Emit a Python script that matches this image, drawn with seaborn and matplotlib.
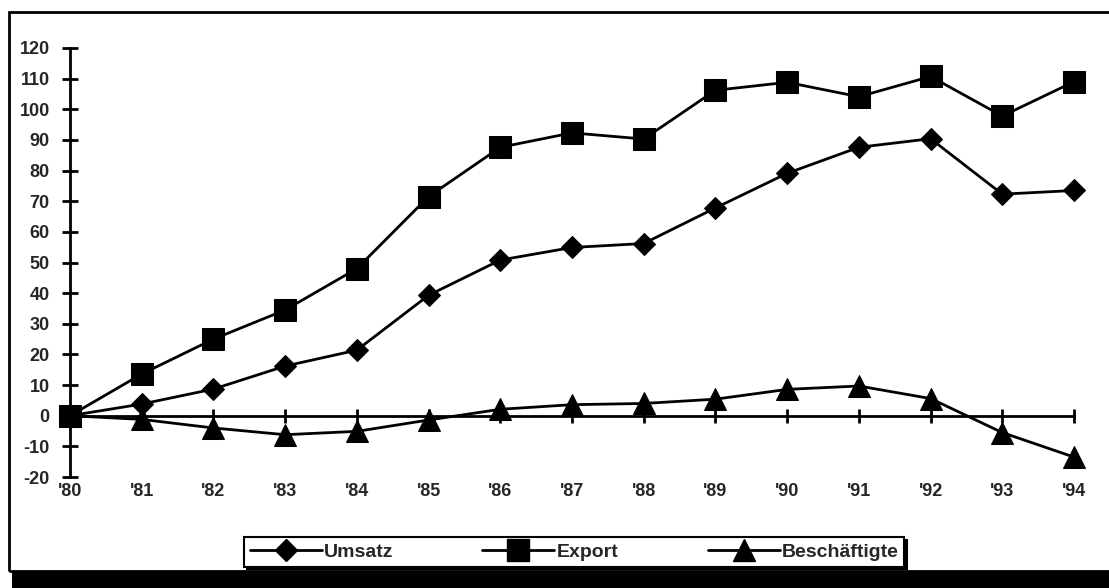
import numpy as np
import pandas as pd
import matplotlib
matplotlib.use("Agg")
import matplotlib.pyplot as plt
from matplotlib.lines import Line2D
from matplotlib.patches import Rectangle
import seaborn as sns

# Index 1980 = 0
jahre = ["'80", "'81", "'82", "'83", "'84", "'85", "'86", "'87",
         "'88", "'89", "'90", "'91", "'92", "'93", "'94"]
umsatz = [0, 3.8, 8.7, 16.2, 21.4, 39.3, 50.8, 54.9, 56.2, 67.8, 79.1, 87.6, 90.4, 72.3, 73.5]
export = [0, 13.6, 25.0, 34.5, 48.0, 71.5, 87.6, 92.3, 90.3, 106.2, 108.8, 104.1, 110.7, 97.8, 109.0]
beschaeftigte = [0, -1.2, -4.0, -6.2, -5.1, -1.4, 2.1, 3.6, 4.0, 5.4, 8.6, 9.7, 5.6, -5.5, -13.5]
y_ticks = list(range(-20, 121, 10))

sns.set_style("white")
plt.rcParams["font.family"] = ["Liberation Sans", "DejaVu Sans"]
plt.rcParams["font.weight"] = "bold"
FS = 13
FS_LEG = 14

W, H = 1109, 588
fig = plt.figure(figsize=(W / 100, H / 100), dpi=100)
fig.patch.set_facecolor("white")
ax = fig.add_axes([70 / W, 111 / H, 1004 / W, 429 / H])

x = np.arange(len(jahre))
df = pd.DataFrame({"x": x, "Umsatz": umsatz, "Export": export,
                   "Beschäftigte": beschaeftigte})

series = [
    ("Umsatz", "D", 11.2),
    ("Export", "s", 15.4),
    ("Beschäftigte", "^", 16.0),
]
LW = 2.0
handles = []
for name, mk, ms in series:
    sns.lineplot(data=df, x="x", y=name, ax=ax, color="black", linewidth=LW,
                 marker=mk, markersize=ms, markeredgecolor="black",
                 markerfacecolor="black", clip_on=False, zorder=5)
    handles.append(Line2D([], [], color="black", linewidth=LW, marker=mk,
                          markersize=ms, markerfacecolor="black",
                          markeredgecolor="black"))

ax.set_xlim(0, len(jahre) - 1)
ax.set_ylim(-20, 120)
ax.set_xlabel("")
ax.set_ylabel("")

# y axis
ax.set_yticks(y_ticks)
ax.set_yticklabels([str(v) for v in y_ticks], fontsize=FS, fontweight="bold")
ax.tick_params(axis="y", direction="inout", length=11, width=2, pad=9,
               color="black", left=True)
ax.spines["left"].set_linewidth(2)
ax.spines["left"].set_color("black")
for s in ("top", "right", "bottom"):
    ax.spines[s].set_visible(False)

# category labels below the plot
ax.set_xticks(x)
ax.set_xticklabels(jahre, fontsize=FS, fontweight="bold")
ax.tick_params(axis="x", length=0, pad=4, bottom=True)

# zero line carrying the category ticks
zero_ax = ax.secondary_xaxis(0, transform=ax.transData)
zero_ax.set_xticks(x)
zero_ax.tick_params(axis="x", direction="inout", length=10, width=2,
                    labelbottom=False, color="black")
zero_ax.spines["bottom"].set_linewidth(2)
zero_ax.spines["bottom"].set_color("black")
zero_ax.set_zorder(1)

# outer frame and its shadow
fig.add_artist(Rectangle((9 / W, (H - 571) / H), 1.2, (571 - 12) / H,
                         transform=fig.transFigure, fill=False,
                         edgecolor="black", linewidth=2, clip_on=False))
fig.add_artist(Rectangle((12 / W, 0), 1.2, (H - 571) / H,
                         transform=fig.transFigure, facecolor="black",
                         edgecolor="none", clip_on=False))

leg = fig.legend(handles, [s[0] for s in series], loc="center",
                 bbox_to_anchor=(574 / W, (H - 552) / H), ncol=3,
                 frameon=True, fancybox=False, edgecolor="black",
                 handlelength=3.7, handletextpad=0.1, columnspacing=4.6,
                 borderpad=0.3, borderaxespad=0,
                 shadow={"color": "black", "alpha": 1, "ox": 2, "oy": -2},
                 prop={"size": FS_LEG, "weight": "bold"})
leg.get_frame().set_linewidth(1.5)

fig.savefig("out.png", dpi=100)
